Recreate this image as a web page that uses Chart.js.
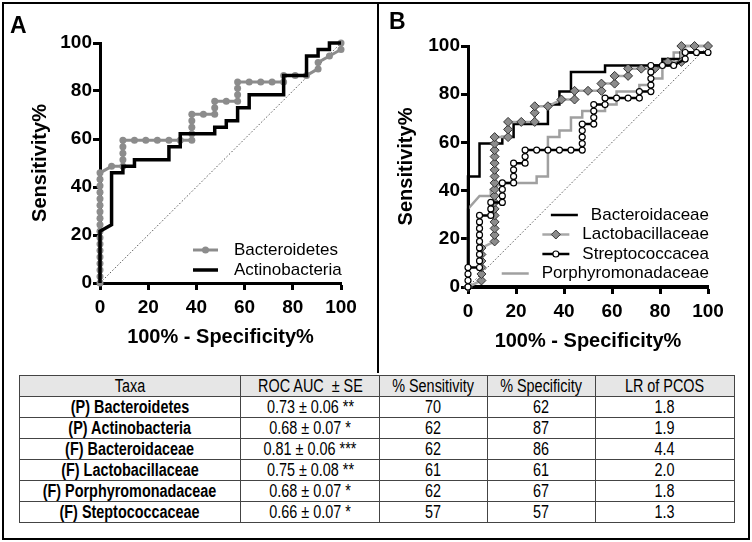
<!DOCTYPE html>
<html>
<head>
<meta charset="utf-8">
<script src="https://cdn.jsdelivr.net/npm/chart.js@4.4.1/dist/chart.umd.min.js"></script>
<style>
  html, body { margin: 0; padding: 0; background: #fff; }
  #fig { position: relative; width: 752px; height: 542px; overflow: hidden; font-family: "Liberation Sans", Arial, sans-serif; }
  #frame { position: absolute; left: 2px; top: 2px; width: 748px; height: 538px; box-sizing: border-box; border: 2px solid #000; }
  #divider { position: absolute; left: 377px; top: 2px; width: 2px; height: 371px; background: #000; }
  .panel { position: absolute; top: 0; width: 376px; height: 370px; }
  .tag { position: absolute; font-weight: bold; font-size: 23px; line-height: 1; }
  #tbl { position: absolute; left: 19px; top: 375px; width: 715px; border-collapse: collapse; table-layout: fixed;
         font-family: "Liberation Sans", Arial, sans-serif; font-size: 18px; }
  #tbl td, #tbl th { border: 1px solid #444; text-align: center; padding: 0; height: 20px; line-height: 18px; white-space: nowrap; }
  #tbl th { background: #e6e6e6; font-weight: normal; }
  #tbl td.taxa { font-weight: bold; }
  #tbl .sq { display: inline-block; transform: scaleX(0.8); }
</style>
</head>
<body>
<div id="fig">
  <div id="frame"></div>
  <div id="divider"></div>
  <div class="panel" style="left:0"><canvas id="chartA" width="376" height="370"></canvas></div>
  <div class="panel" style="left:376px"><canvas id="chartB" width="376" height="370"></canvas></div>
  <div class="tag" style="left:10px; top:14px">A</div>
  <div class="tag" style="left:389px; top:10px">B</div>
  <table id="tbl"></table>
</div>
<script>
// ROC points, [100% - specificity, sensitivity]
const bacteroidetes = [[0,0],[0,2.7],[0,5.4],[0,8.1],[0,10.8],[0,13.5],[0,16.2],[0,18.9],[0,21.6],[0,24.3],
  [0,27.0],[0,29.7],[0,32.4],[0,35.1],[0,37.8],[0,40.5],[0,43.2],[0,45.9],[4.8,48.6],[9.5,48.6],
  [9.5,51.4],[9.5,54.1],[9.5,56.8],[9.5,59.5],[14.3,59.5],[19.0,59.5],[23.8,59.5],[28.6,59.5],[33.3,59.5],
  [38.1,59.5],[38.1,62.2],[38.1,64.9],[38.1,67.6],[38.1,70.3],[42.9,70.3],[47.6,70.3],[47.6,73.0],[47.6,75.7],
  [52.4,75.7],[57.1,75.7],[57.1,78.4],[57.1,81.1],[57.1,83.8],[61.9,83.8],[66.7,83.8],[71.4,83.8],[76.2,83.8],
  [76.2,86.5],[81.0,86.5],[85.7,86.5],[90.5,89.2],[90.5,91.9],[95.2,94.6],[100,97.3],[100,100]];
const actinobacteria = [[0,0],[0,21.6],[4.8,24.3],[4.8,45.9],[9.5,45.9],[9.5,48.6],[14.3,48.6],[14.3,51.4],
  [28.6,51.4],[28.6,56.8],[33.3,56.8],[33.3,62.2],[47.6,62.2],[47.6,64.9],[52.4,64.9],[52.4,67.6],[57.1,67.6],
  [57.1,73.0],[61.9,73.0],[61.9,78.4],[76.2,78.4],[76.2,86.5],[85.7,86.5],[85.7,94.6],[90.5,94.6],[90.5,97.3],
  [95.2,97.3],[95.2,100],[100,100]];
const bacteroidaceae = [[0,0],[0,45.9],[4.8,45.9],[4.8,59.5],[14.3,59.5],[14.3,62.2],[19.0,62.2],[19.0,67.6],
  [33.3,67.6],[33.3,75.7],[38.1,75.7],[38.1,81.1],[42.9,81.1],[42.9,89.2],[57.1,89.2],[57.1,91.9],[81.0,91.9],
  [81.0,94.6],[88.6,94.6],[88.6,97.3],[100,97.3]];
const lactobacillaceae = [[0,0],[5.6,2.7],[5.6,5.4],[5.6,8.1],[5.6,10.8],[5.6,13.5],[5.6,16.2],[11.1,18.9],
  [11.1,21.6],[11.1,24.3],[11.1,27.0],[11.1,29.7],[11.1,32.4],[11.1,35.1],[11.1,37.8],[11.1,40.5],[11.1,43.2],
  [11.1,45.9],[11.1,48.6],[11.1,51.4],[11.1,54.1],[11.1,56.8],[11.1,59.5],[11.1,62.2],[16.7,62.2],[16.7,65.4],
  [16.7,68.5],[22.2,68.5],[27.8,68.5],[27.8,72.3],[27.8,75.0],[33.3,75.0],[38.9,77.8],[44.4,77.8],[44.4,81.4],
  [50.0,81.4],[55.6,81.4],[55.6,84.4],[61.1,84.4],[61.1,87.6],[66.7,87.6],[66.7,90.6],[72.2,90.6],[77.8,90.6],
  [83.3,93.4],[88.9,93.4],[88.9,100],[94.4,100],[100,100]];
const streptococcaceae = [[0,0],[0,2.7],[0,5.4],[0,8.1],[4.8,8.1],[4.8,10.8],[4.8,13.5],[4.8,16.2],[4.8,18.9],
  [4.8,21.6],[4.8,24.3],[4.8,27.0],[4.8,29.7],[9.5,29.7],[9.5,32.4],[9.5,35.1],[14.3,35.1],[14.3,37.8],[14.3,40.5],
  [14.3,43.2],[19.0,43.2],[19.0,45.9],[19.0,48.6],[19.0,51.4],[23.8,51.4],[23.8,54.1],[23.8,56.8],[28.6,56.8],
  [33.3,56.8],[38.1,56.8],[42.9,56.8],[47.6,56.8],[47.6,59.5],[47.6,62.2],[47.6,64.9],[47.6,67.6],[52.4,67.6],
  [52.4,70.3],[52.4,73.0],[52.4,75.7],[57.1,75.7],[57.1,78.4],[61.9,78.4],[66.7,78.4],[71.4,78.4],[71.4,81.1],
  [76.2,81.1],[76.2,83.8],[76.2,86.5],[76.2,89.2],[76.2,91.9],[81.0,91.9],[85.7,91.9],[90.5,94.6],[90.5,97.3],
  [95.2,97.3],[100,97.3]];
const porphyromonadaceae = [[0,0],[0,32.4],[4.8,37.8],[9.5,37.8],[9.5,40.5],[14.3,43.2],[28.6,43.2],[28.6,45.9],
  [33.3,45.9],[33.3,62.2],[38.1,62.2],[38.1,64.9],[42.9,64.9],[42.9,70.3],[47.6,70.3],[47.6,73.0],[57.1,73.0],
  [57.1,75.7],[61.9,75.7],[61.9,81.1],[71.4,81.1],[71.4,83.8],[76.2,83.8],[76.2,86.5],[81.0,86.5],[81.0,91.9],
  [85.7,91.9],[85.7,97.3],[90.5,97.3],[90.5,100],[100,100]];
const chanceLine = [[0,0],[100,100]];
const tickValues = [0, 20, 40, 60, 80, 100];

// table
const taxa = ['(P) Bacteroidetes', '(P) Actinobacteria', '(F) Bacteroidaceae', '(F) Lactobacillaceae', '(F) Porphyromonadaceae', '(F) Steptococcaceae'];
const rocAuc = [0.73, 0.68, 0.81, 0.75, 0.68, 0.66];
const rocSe = [0.06, 0.07, 0.06, 0.08, 0.07, 0.07];
const signif = ['**', '*', '***', '**', '*', '*'];
const sensitivity = [70, 62, 62, 61, 62, 57];
const specificity = [62, 87, 86, 61, 67, 57];
const lrPcos = ['1.8', '1.9', '4.4', '2.0', '1.8', '1.3'];
const headers = ['Taxa', 'ROC AUC \u00a0\u00b1 SE', '% Sensitivity', '% Specificity', 'LR of PCOS'];
const colWidths = [221, 139, 108, 108, 139];

const toXY = pts => pts.map(p => ({x: p[0], y: p[1]}));
const FONT = '"Liberation Sans", Arial, sans-serif';

const insideLegend = {
  id: 'insideLegend',
  afterDatasetsDraw(chart, args, opts) {
    const ctx = chart.ctx, area = chart.chartArea;
    ctx.save();
    ctx.font = '17px ' + FONT;
    ctx.textBaseline = 'middle';
    opts.items.forEach((item, i) => {
      const ds = chart.data.datasets[item.dataset];
      const y = opts.top + i * opts.step;
      let textX, lineEnd;
      if (opts.align === 'right') {
        textX = area.right + opts.dx;
        ctx.textAlign = 'right';
        lineEnd = textX - ctx.measureText(item.label).width - opts.gap;
      } else {
        textX = area.left + opts.dx;
        ctx.textAlign = 'left';
        lineEnd = textX - opts.gap;
      }
      ctx.fillStyle = '#000';
      ctx.fillText(item.label, textX, y);
      const lineStart = lineEnd - opts.sample;
      ctx.strokeStyle = ds.borderColor;
      ctx.lineWidth = ds.borderWidth;
      ctx.beginPath();
      ctx.moveTo(lineStart, y);
      ctx.lineTo(lineEnd, y);
      ctx.stroke();
      if (ds.pointRadius > 0) {
        ctx.fillStyle = ds.pointBackgroundColor;
        ctx.strokeStyle = ds.pointBorderColor;
        ctx.lineWidth = ds.pointBorderWidth;
        Chart.helpers.drawPoint(ctx, {pointStyle: ds.pointStyle, radius: ds.pointRadius,
          borderWidth: ds.pointBorderWidth, rotation: 0}, (lineStart + lineEnd) / 2, y);
      }
    });
    ctx.restore();
  }
};

function rocChart(id, datasets, layout, legend) {
  const tickFont = {family: FONT, size: 19, weight: 'bold'};
  const titleFont = {family: FONT, size: 20, weight: 'bold'};
  const grid = {display: true, drawOnChartArea: false, drawTicks: true, tickLength: 7, tickWidth: 3, tickColor: '#000'};
  return new Chart(document.getElementById(id), {
    type: 'scatter',
    data: {datasets: datasets.map(d => Object.assign({showLine: true, clip: false, pointRadius: 0,
      borderDash: [], pointBorderWidth: 0}, d))},
    options: {
      responsive: false,
      animation: false,
      events: [],
      layout: {padding: {left: 0, top: layout.top, right: layout.right, bottom: 0}},
      plugins: {legend: {display: false}, tooltip: {enabled: false}, insideLegend: legend},
      scales: {
        x: {
          type: 'linear', min: 0, max: 100,
          afterBuildTicks: s => { s.ticks = tickValues.map(v => ({value: v})); },
          border: {display: true, color: '#000', width: layout.xAxisWidth},
          grid: grid,
          ticks: {color: '#000', font: tickFont, padding: 6, maxRotation: 0, autoSkip: false},
          title: {display: true, text: '100% - Specificity%', color: '#000', font: titleFont,
                  padding: {top: 0, bottom: layout.xTitlePad}},
          afterFit: s => { s.height = layout.xHeight; }
        },
        y: {
          type: 'linear', min: 0, max: 100,
          afterBuildTicks: s => { s.ticks = tickValues.map(v => ({value: v})); },
          border: {display: true, color: '#000', width: 3},
          grid: grid,
          ticks: {color: '#000', font: tickFont, padding: 1, autoSkip: false},
          title: {display: true, text: 'Sensitivity%', color: '#000', font: titleFont,
                  padding: {top: layout.yTitlePad, bottom: 0}},
          afterFit: s => { s.width = layout.yWidth; }
        }
      }
    },
    plugins: [insideLegend]
  });
}

const chance = {data: toXY(chanceLine), borderColor: '#555', borderWidth: 1, borderDash: [1.5, 2]};

rocChart('chartA', [
  {data: toXY(actinobacteria), borderColor: '#000', borderWidth: 3.5},
  {data: toXY(bacteroidetes), borderColor: '#8c8c8c', borderWidth: 3, pointRadius: 3.5,
   pointBackgroundColor: '#8c8c8c', pointBorderColor: '#8c8c8c', pointStyle: 'circle'},
  chance
], {top: 43, right: 35, xHeight: 87, yWidth: 100, xTitlePad: 21, yTitlePad: 28, xAxisWidth: 3},
{align: 'left', dx: 134, gap: 16, sample: 25, top: 250, step: 20,
 items: [{label: 'Bacteroidetes', dataset: 1}, {label: 'Actinobacteria', dataset: 0}]});

rocChart('chartB', [
  {data: toXY(streptococcaceae), borderColor: '#000', borderWidth: 2.5, pointRadius: 3,
   pointBackgroundColor: '#fff', pointBorderColor: '#000', pointBorderWidth: 1.2, pointStyle: 'circle'},
  {data: toXY(lactobacillaceae), borderColor: '#a8a8a8', borderWidth: 2.5, pointRadius: 4.5,
   pointBackgroundColor: '#8c8c8c', pointBorderColor: '#333', pointBorderWidth: 1, pointStyle: 'rectRot'},
  {data: toXY(bacteroidaceae), borderColor: '#000', borderWidth: 2.5},
  {data: toXY(porphyromonadaceae), borderColor: '#a0a0a0', borderWidth: 2.5},
  chance
], {top: 46, right: 44, xHeight: 83, yWidth: 92, xTitlePad: 17, yTitlePad: 18, xAxisWidth: 4},
{align: 'right', dx: 1, gap: 13, sample: 27, top: 215, step: 19.5,
 items: [{label: 'Bacteroidaceae', dataset: 2}, {label: 'Lactobacillaceae', dataset: 1},
         {label: 'Streptococcacea', dataset: 0}, {label: 'Porphyromonadaceae', dataset: 3}]});

// table
const cell = (tag, txt, cls) => '<' + tag + (cls ? ' class="' + cls + '"' : '') + '><span class="sq">' + txt + '</span></' + tag + '>';
const tbl = document.getElementById('tbl');
let html = '<colgroup>' + colWidths.map(w => '<col style="width:' + w + 'px">').join('') + '</colgroup>';
html += '<tr>' + headers.map(h => cell('th', h)).join('') + '</tr>';
taxa.forEach((t, i) => {
  html += '<tr>' + cell('td', t, 'taxa') +
    cell('td', rocAuc[i].toFixed(2) + ' \u00b1 ' + rocSe[i].toFixed(2) + ' ' + signif[i]) +
    cell('td', sensitivity[i]) + cell('td', specificity[i]) + cell('td', lrPcos[i]) + '</tr>';
});
tbl.innerHTML = html;
</script>
</body>
</html>
